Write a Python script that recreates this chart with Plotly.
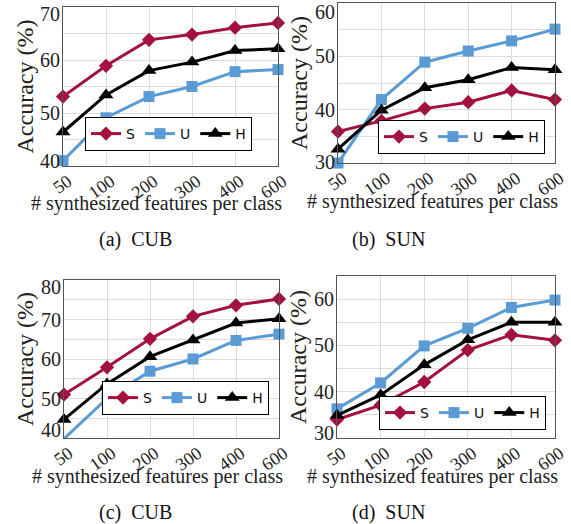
import plotly.graph_objects as go

# ---------------- data ----------------
x_labels = ["50", "100", "200", "300", "400", "600"]
series_names = ["S", "U", "H"]

a_S = [53.1, 58.9, 63.8, 64.8, 66.1, 67.0]
a_U = [41.0, 49.1, 53.1, 55.0, 57.8, 58.2]
a_H = [46.4, 53.4, 58.0, 59.6, 61.8, 62.1]

b_S = [35.9, 37.9, 40.2, 41.4, 43.6, 41.9]
b_U = [30.0, 41.9, 48.9, 51.0, 52.9, 55.1]
b_H = [32.6, 39.9, 44.1, 45.6, 47.9, 47.5]

c_S = [51.0, 57.9, 65.1, 70.8, 73.6, 75.2]
c_U = [39.8, 50.0, 56.9, 60.0, 64.7, 66.3]
c_H = [44.7, 53.7, 60.6, 64.8, 69.1, 70.2]

d_S = [34.0, 37.1, 42.1, 49.0, 52.3, 51.1]
d_U = [36.3, 41.9, 49.9, 53.7, 58.2, 59.8]
d_H = [34.9, 39.3, 45.8, 51.2, 55.0, 55.0]

y_ranges = [[40, 70], [30, 60], [40, 80], [30, 65]]
y_tick_labels = [[40, 50, 60, 70], [30, 40, 50, 60], [40, 50, 60, 70, 80], [30, 40, 50, 60]]
captions = ["(a)  CUB", "(b)  SUN", "(c)  CUB", "(d)  SUN"]
x_title = "# synthesized features per class"
y_title = "Accuracy (%)"

panels = [[a_S, a_U, a_H], [b_S, b_U, b_H], [c_S, c_U, c_H], [d_S, d_U, d_H]]

# ---------------- styles / layout ----------------
W, H = 571, 524
colors = ["#a3123f", "#5b9bd5", "#000000"]
symbols = ["diamond", "square", "triangle-up"]
msizes = [11, 11, 13]
SERIF = "Liberation Serif, Times New Roman, serif"

# plot areas in pixels: (x0, x1, ytop, ybottom)
boxes = [(63, 278, 7, 166), (338, 555, 3, 163), (64, 279, 280, 438), (337, 555, 276, 438)]
# legend right/top in pixels
leg_pos = [(252, 117), (545, 120), (269, 381), (546, 396)]
# y shifts for tick labels at range ends (bottom, top)
end_shift = [(5, -7), (1, -9), (8, -7), (5, 0)]
caption_pos = [(135, 239), (388, 239), (135, 512), (388, 512)]

fig = go.Figure()
annotations = []
for p in range(4):
    ax = "" if p == 0 else str(p + 1)
    leg = "legend" if p == 0 else "legend" + str(p + 1)
    for s in range(3):
        fig.add_trace(go.Scatter(
            x=x_labels, y=panels[p][s], name=series_names[s],
            mode="lines+markers",
            line=dict(color=colors[s], width=3),
            marker=dict(symbol=symbols[s], size=msizes[s], color=colors[s]),
            xaxis="x" + ax, yaxis="y" + ax, legend=leg, cliponaxis=False,
        ))
    x0, x1, yt, yb = boxes[p]
    fig.layout["xaxis" + ax] = dict(
        domain=[x0 / W, x1 / W], anchor="y" + ax, type="category", automargin=False,
        range=[0, len(x_labels) - 1], showgrid=True, gridcolor="#dcdcdc",
        gridwidth=1, showline=True, linecolor="#555555", linewidth=1, mirror=True,
        ticks="", tickangle=-35, tickfont=dict(family=SERIF, size=18, color="#222"),
        ticklabelshift=5, ticklabelstandoff=-3, zeroline=False,
    )
    fig.layout["yaxis" + ax] = dict(
        domain=[1 - yb / H, 1 - yt / H], anchor="x" + ax, automargin=False,
        range=y_ranges[p], dtick=5, tick0=0, showgrid=True, gridcolor="#dcdcdc",
        gridwidth=1, showline=True, linecolor="#555555", linewidth=1, mirror=True,
        ticks="", showticklabels=False, zeroline=False,
    )
    lx, ly = leg_pos[p]
    fig.layout[leg] = dict(
        x=lx / W, y=1 - ly / H, xanchor="right", yanchor="top",
        orientation="h", bgcolor="white", bordercolor="black", borderwidth=1,
        font=dict(family="DejaVu Sans", size=14, color="#111"),
        itemwidth=30, tracegroupgap=0,
    )
    # y tick labels
    for v in y_tick_labels[p]:
        ys = 0
        if v == y_ranges[p][0]:
            ys = end_shift[p][0]
        elif v == y_ranges[p][1]:
            ys = end_shift[p][1]
        annotations.append(dict(
            text=str(v), xref="x" + ax + " domain", x=0, xanchor="right", xshift=-1,
            yref="y" + ax, y=v, yanchor="middle", yshift=ys, showarrow=False,
            font=dict(family=SERIF, size=20, color="#222"),
        ))
    # axis titles
    annotations.append(dict(
        text=y_title, xref="x" + ax + " domain", x=0, xshift=-39, xanchor="center",
        yref="y" + ax + " domain", y=0.5, yanchor="middle", textangle=-90,
        showarrow=False, font=dict(family=SERIF, size=24, color="#222"),
    ))
    annotations.append(dict(
        text=x_title, xref="x" + ax + " domain", x=0.5, xshift=-14, xanchor="center",
        yref="y" + ax + " domain", y=0, yshift=-38, yanchor="middle",
        showarrow=False, font=dict(family=SERIF, size=20, color="#222"),
    ))
    cx, cy = caption_pos[p]
    annotations.append(dict(
        text=captions[p], xref="paper", x=cx / W, xanchor="center",
        yref="paper", y=1 - cy / H, yanchor="middle",
        showarrow=False, font=dict(family=SERIF, size=20, color="#111"),
    ))

fig.update_layout(
    width=W, height=H, margin=dict(l=0, r=0, t=0, b=0, autoexpand=False),
    paper_bgcolor="white", plot_bgcolor="white",
    annotations=annotations, showlegend=True,
)
fig.write_html(
    "out.html",
    config={"displayModeBar": False},
    post_script="document.body.style.margin='0';document.body.style.overflow='hidden';",
)
